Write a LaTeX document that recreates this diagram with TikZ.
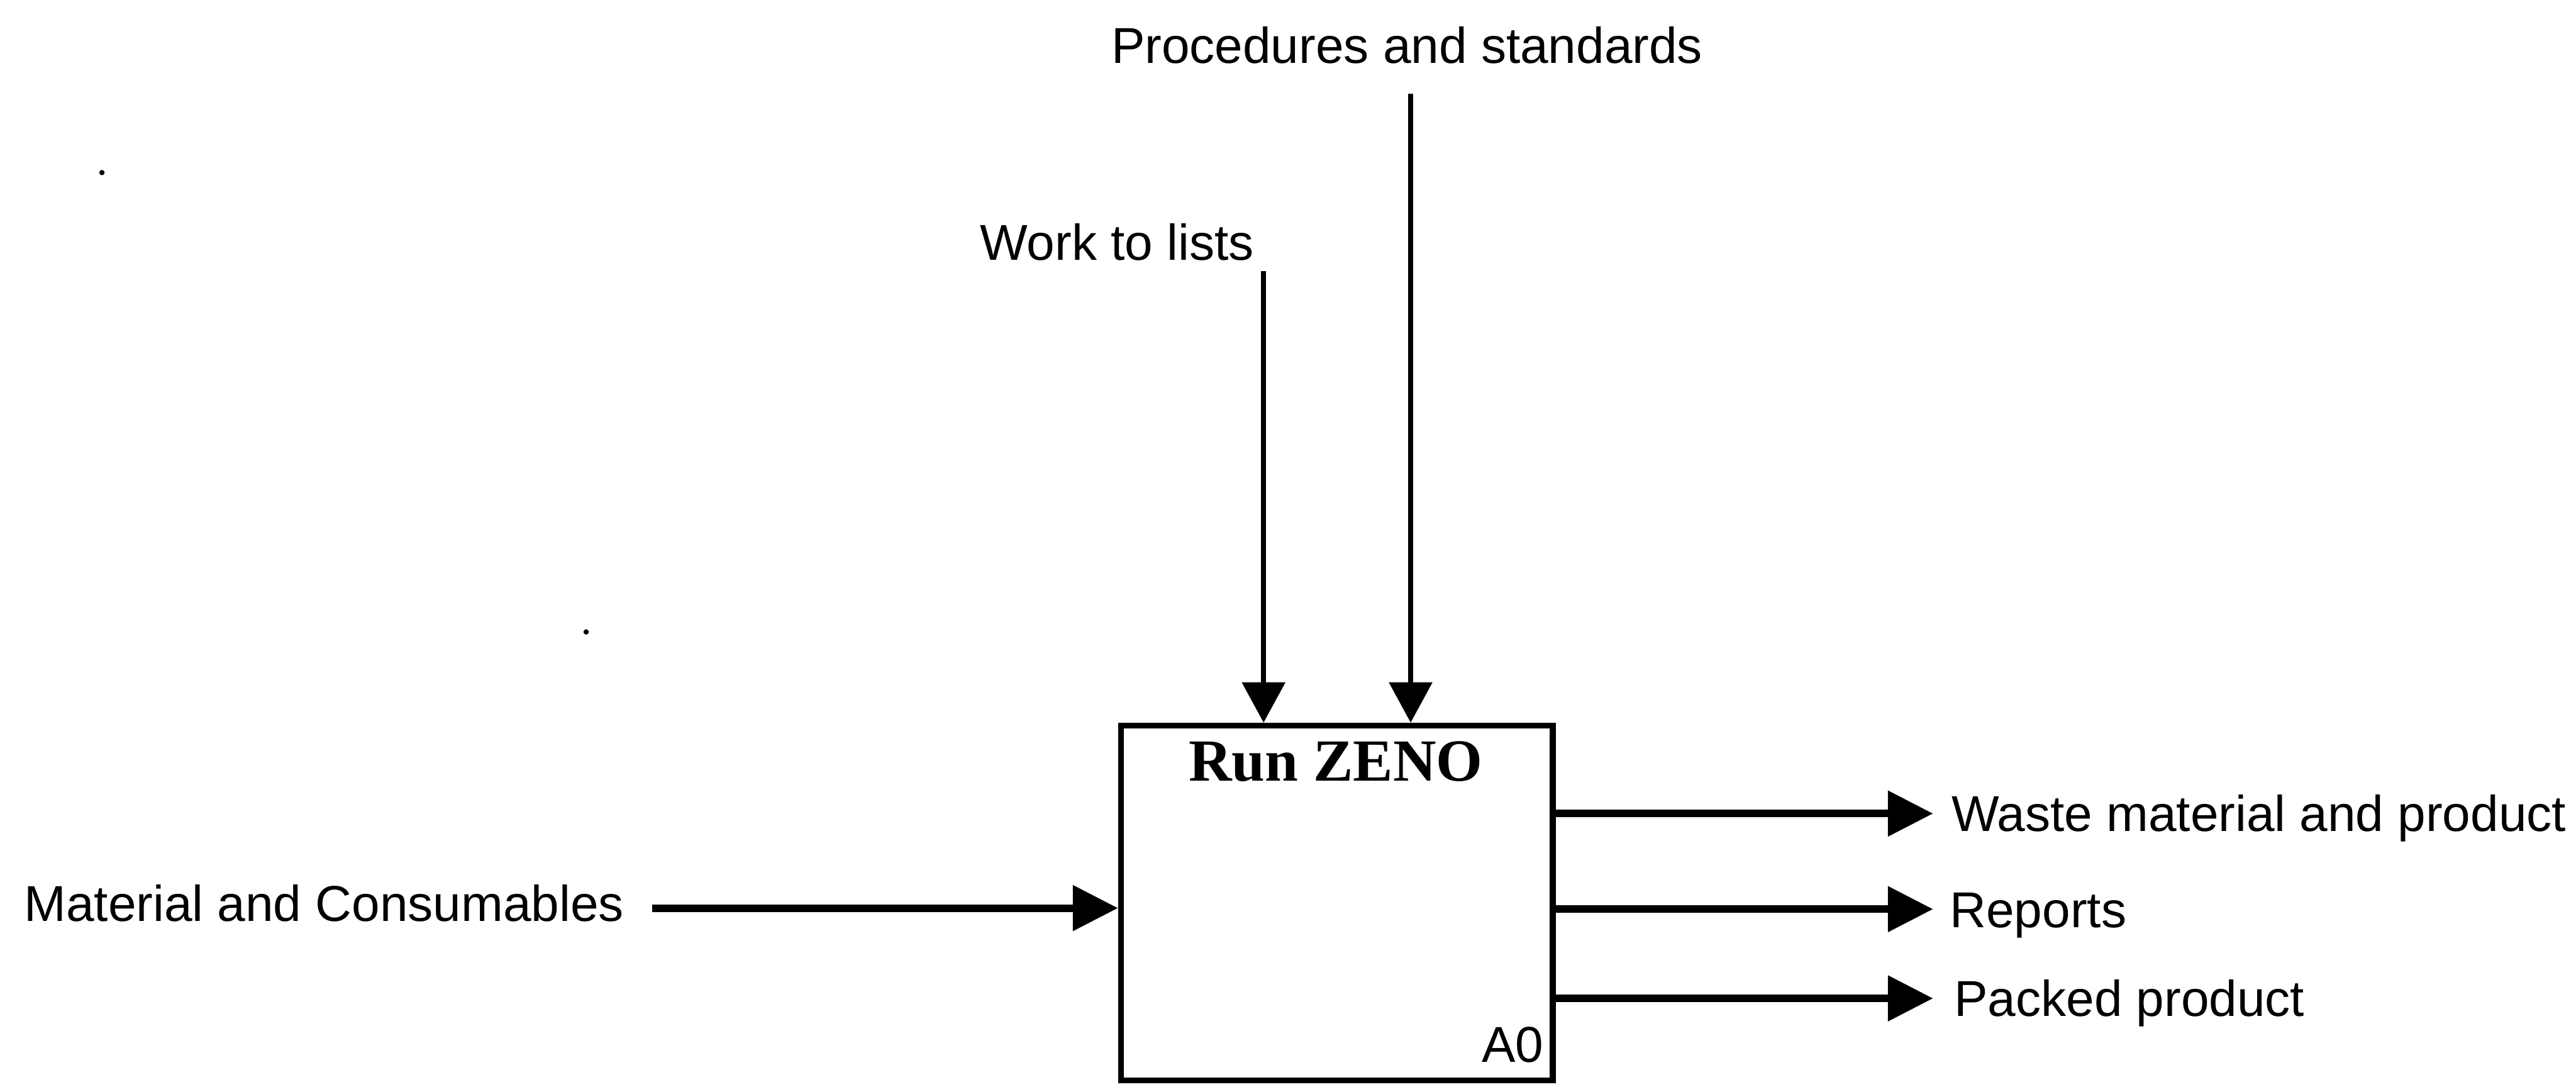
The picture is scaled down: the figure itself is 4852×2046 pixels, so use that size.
\documentclass[tikz,border=0pt]{standalone}
\usepackage{fontspec}
\setmainfont{Liberation Sans}
\newfontfamily\titlefont{Liberation Serif}
\usetikzlibrary{arrows.meta,calc}
\begin{document}
\begin{tikzpicture}[x=0.01cm,y=-0.01cm,
  lbl/.style={inner sep=0pt,font=\fontsize{27pt}{32pt}\selectfont},
  vline/.style={line width=2.6pt,-{Triangle[length=0.76cm,width=0.8cm]}},
  hline/.style={line width=4pt,-{Triangle[length=0.85cm,width=0.83cm]}},
  funcbox/.style={draw,line width=3.1pt,minimum width=8.13cm,minimum height=6.68cm,inner sep=0pt},
  dotmark/.style={circle,fill,inner sep=0pt,minimum size=0.1cm}]
\useasboundingbox (0,0) rectangle (4852,2046);
% main function box
\node[funcbox] (box) at (2518,1700.5) {};
\node[inner sep=0pt,font=\titlefont\bfseries\fontsize{32pt}{38pt}\selectfont,anchor=base] (title) at (2516,1471) {Run ZENO};
\node[lbl,anchor=base east] (a0) at (2908,2000) {A0};
% labels
\node[lbl,anchor=base] (proc) at (2650,119) {Procedures and standards};
\node[lbl,anchor=base] (work) at (2104,490) {Work to lists};
\node[lbl,anchor=base west] (mat) at (45,1735) {Material and Consumables};
\node[lbl,anchor=base west] (waste) at (3675,1565) {Waste material and product};
\node[lbl,anchor=base west] (rep) at (3672,1747) {Reports};
\node[lbl,anchor=base west] (pack) at (3680,1914) {Packed product};
% connector ends
\coordinate (procS) at (2657,176);
\coordinate (workS) at (2380,511);
\coordinate (matS) at (1228,1710);
\coordinate (wasteE) at (3641,1532);
\coordinate (repE) at (3641,1712);
\coordinate (packE) at (3641,1880);
% connectors
\draw[vline] (procS) -- (procS |- box.north);
\draw[vline] (workS) -- (workS |- box.north);
\draw[hline] (matS) -- (box.west |- matS);
\draw[hline] (box.east |- wasteE) -- (wasteE);
\draw[hline] (box.east |- repE) -- (repE);
\draw[hline] (box.east |- packE) -- (packE);
% stray dots
\node[dotmark] (d1) at (192,325) {};
\node[dotmark] (d2) at (1104,1190) {};
\end{tikzpicture}
\end{document}
